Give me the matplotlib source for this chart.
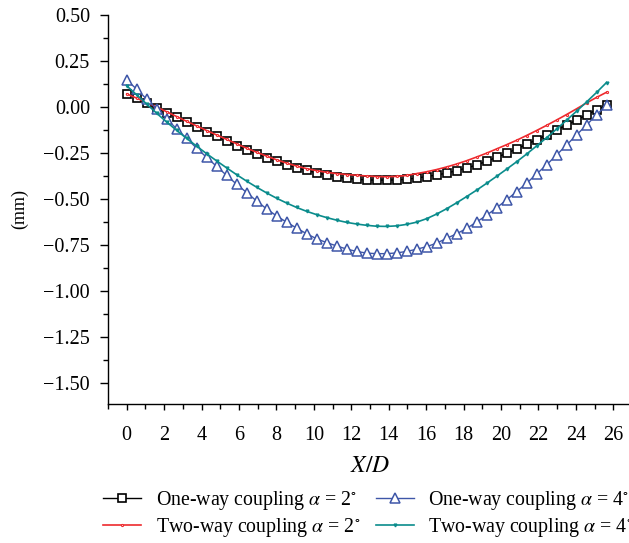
import numpy as np
import matplotlib
matplotlib.use('Agg')
import matplotlib.pyplot as plt
from matplotlib.ticker import MultipleLocator, FixedLocator

# X/D positions (49 stations along the pile)
xd = np.linspace(0, 25.64, 49)

# displacement values (mm)
one_way_2 = [0.072, 0.048, 0.020, -0.006, -0.030, -0.057, -0.083, -0.108, -0.134, -0.160,
             -0.186, -0.211, -0.233, -0.254, -0.276, -0.296, -0.314, -0.330, -0.345, -0.357,
             -0.370, -0.380, -0.388, -0.393, -0.396, -0.397, -0.397, -0.396, -0.393, -0.386,
             -0.378, -0.370, -0.359, -0.346, -0.332, -0.315, -0.295, -0.274, -0.252, -0.228,
             -0.203, -0.178, -0.152, -0.125, -0.100, -0.071, -0.043, -0.016, 0.009]
two_way_2 = [0.071, 0.048, 0.024, 0.000, -0.026, -0.052, -0.078, -0.103, -0.128, -0.152,
             -0.176, -0.200, -0.224, -0.246, -0.267, -0.287, -0.305, -0.321, -0.335, -0.346,
             -0.355, -0.362, -0.367, -0.371, -0.375, -0.378, -0.379, -0.377, -0.372, -0.362,
             -0.352, -0.340, -0.326, -0.310, -0.292, -0.272, -0.251, -0.228, -0.205, -0.181,
             -0.155, -0.128, -0.100, -0.071, -0.041, -0.010, 0.022, 0.052, 0.080]
one_way_4 = [0.146, 0.097, 0.042, -0.012, -0.065, -0.119, -0.171, -0.224, -0.274, -0.323,
             -0.372, -0.420, -0.465, -0.511, -0.554, -0.592, -0.626, -0.658, -0.689, -0.716,
             -0.737, -0.755, -0.772, -0.785, -0.794, -0.797, -0.797, -0.793, -0.785, -0.773,
             -0.759, -0.740, -0.714, -0.689, -0.660, -0.625, -0.589, -0.548, -0.505, -0.460,
             -0.415, -0.364, -0.315, -0.261, -0.207, -0.152, -0.098, -0.043, 0.010]
two_way_4 = [0.115, 0.066, 0.016, -0.034, -0.082, -0.127, -0.171, -0.213, -0.254, -0.293,
             -0.331, -0.368, -0.403, -0.436, -0.467, -0.496, -0.522, -0.546, -0.567, -0.585,
             -0.601, -0.615, -0.627, -0.636, -0.643, -0.648, -0.649, -0.646, -0.638, -0.626,
             -0.607, -0.582, -0.553, -0.521, -0.487, -0.452, -0.415, -0.377, -0.338, -0.298,
             -0.256, -0.212, -0.167, -0.120, -0.072, -0.023, 0.027, 0.079, 0.133]

labels = [r'One-way coupling $\alpha$ = 2$^{\circ}$',
          r'Two-way coupling $\alpha$ = 2$^{\circ}$',
          r'One-way coupling $\alpha$ = 4$^{\circ}$',
          r'Two-way coupling $\alpha$ = 4$^{\circ}$']

plt.rcParams['font.family'] = ['Liberation Serif', 'DejaVu Serif']
plt.rcParams['mathtext.fontset'] = 'stix'
plt.rcParams['font.size'] = 14

fig = plt.figure(figsize=(6.29, 5.43), dpi=100)
ax = fig.add_axes([0.1717, 0.256, 0.833, 0.7164])

ax.plot(xd, one_way_2, '-', color='black', lw=1.0, marker='s', ms=6, mfc='white',
        mec='black', mew=1.2, label=labels[0])
ax.plot(xd, two_way_2, '-', color='#EE2A2E', lw=1.2, marker='o', ms=1.5, mfc='white',
        mec='#EE2A2E', mew=0.8, label=labels[1])
ax.plot(xd, one_way_4, '-', color='#3E56A8', lw=1.0, marker='^', ms=7.5, mfc='white',
        mec='#3E56A8', mew=1.1, label=labels[2])
ax.plot(xd, two_way_4, '-', color='#0A8C8C', lw=1.2, marker='v', ms=2,
        mec='#0A8C8C', mfc='#0A8C8C', label=labels[3])

ax.set_xlim(-1, 27)
ax.set_ylim(-1.614, 0.5)

ax.xaxis.set_major_locator(FixedLocator(np.arange(0, 27, 2)))
ax.xaxis.set_minor_locator(FixedLocator(np.arange(-1, 28, 2)))
ax.yaxis.set_major_locator(MultipleLocator(0.25))
ax.yaxis.set_minor_locator(MultipleLocator(0.125))
ax.yaxis.set_major_formatter(plt.FuncFormatter(lambda v, _: f'{v:.2f}'.replace('-', '\u2212')))

ax.tick_params(axis='x', which='major', direction='out', length=4.5, width=1, pad=11.5, labelsize=14.5)
ax.tick_params(axis='x', which='minor', direction='out', length=3.5, width=1)
ax.tick_params(axis='y', which='major', direction='out', length=6, width=1, pad=7, labelsize=14.5)
ax.tick_params(axis='y', which='minor', direction='out', length=3.5, width=1)

for s in ['top', 'right']:
    ax.spines[s].set_visible(False)
for s in ['left', 'bottom']:
    ax.spines[s].set_linewidth(1)

ax.set_xlabel(r'$X/D$', fontsize=17, labelpad=7.5)
ax.set_ylabel('(mm)', fontsize=13, labelpad=11)

# legend runs past the right edge, as in the (cropped) original
fig.legend(loc='upper left', bbox_to_anchor=(0.1637, 0.1), ncol=2, frameon=False,
           fontsize=14.3, handlelength=1.9, handletextpad=0.75, columnspacing=0.8,
           labelspacing=0.2, borderaxespad=0, borderpad=0)

fig.savefig('out.png', dpi=100)
